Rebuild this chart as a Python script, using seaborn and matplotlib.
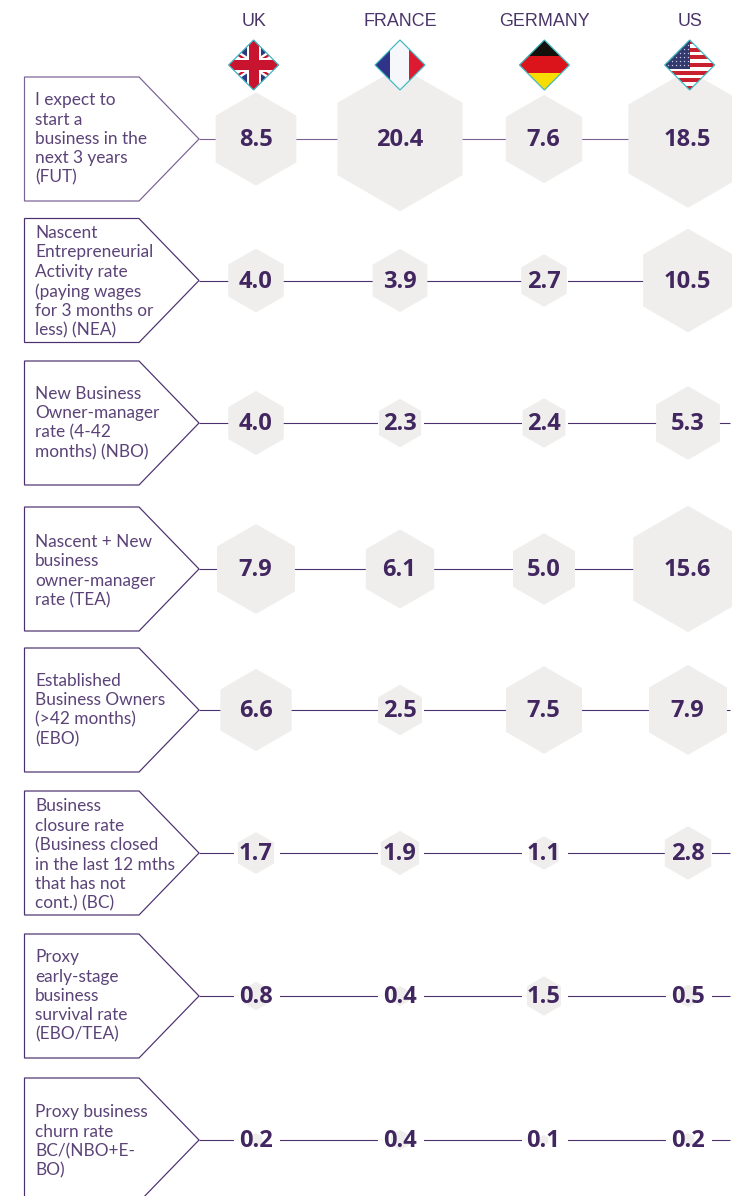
import numpy as np
import pandas as pd
import matplotlib
matplotlib.use("Agg")
import matplotlib.pyplot as plt
from matplotlib.patches import Polygon, Rectangle
import seaborn as sns

countries = ["UK", "FRANCE", "GERMANY", "US"]
row_labels = [
    "I expect to\nstart a\nbusiness in the\nnext 3 years\n(FUT)",
    "Nascent\nEntrepreneurial\nActivity rate\n(paying wages\nfor 3 months or\nless) (NEA)",
    "New Business\nOwner-manager\nrate (4-42\nmonths) (NBO)",
    "Nascent + New\nbusiness\nowner-manager\nrate (TEA)",
    "Established\nBusiness Owners\n(>42 months)\n(EBO)",
    "Business\nclosure rate\n(Business closed\nin the last 12 mths\nthat has not\ncont.) (BC)",
    "Proxy\nearly-stage\nbusiness\nsurvival rate\n(EBO/TEA)",
    "Proxy business\nchurn rate\nBC/(NBO+E-\nBO)",
]
uk_values = [8.5, 4.0, 4.0, 7.9, 6.6, 1.7, 0.8, 0.2]
france_values = [20.4, 3.9, 2.3, 6.1, 2.5, 1.9, 0.4, 0.4]
germany_values = [7.6, 2.7, 2.4, 5.0, 7.5, 1.1, 1.5, 0.1]
us_values = [18.5, 10.5, 5.3, 15.6, 7.9, 2.8, 0.5, 0.2]

# layout (pixels)
W, H = 732, 1196
col_x = [256, 400, 544, 688]
flag_x = [253.6, 400, 544.4, 689.7]
row_y = [139, 280.5, 423, 569, 710, 853, 996, 1140]
label_y = [139, 282, 423, 571, 710, 855, 996, 1141.5]
PURPLE = "#41265f"
LINE = "#4b3070"
TEAL = "#3fb9c2"

sns.set_theme(style="white")
plt.rcParams["font.family"] = ["Lato", "DejaVu Sans"]

fig = plt.figure(figsize=(W / 100, H / 100), dpi=100)
ax = fig.add_axes([0, 0, 1, 1])
ax.set_xlim(0, W)
ax.set_ylim(H, 0)
ax.axis("off")

series = [uk_values, france_values, germany_values, us_values]
df = pd.DataFrame(
    [
        {"x": col_x[c], "y": row_y[r], "value": series[c][r], "country": countries[c]}
        for c in range(4)
        for r in range(8)
    ]
)

# row connector lines, label pentagons, white gaps
PX = 0.72
for r, y in enumerate(row_y):
    col = "#7a6196" if r == 0 else LINE
    ax.plot([199, 730], [y, y], color=col, lw=1.1 * PX, zorder=1, solid_capstyle="butt")
    top, bot = y - 62, y + 62
    ax.add_patch(
        Polygon(
            [(24.5, top), (139, top), (199, y), (139, bot), (24.5, bot)],
            closed=True, fc="white", ec=col, lw=1.2 * PX, zorder=2,
        )
    )
    ax.text(35, label_y[r], row_labels[r], fontsize=12.4, color="#5b4378",
            va="center", ha="left", linespacing=1.26, zorder=5)
    for x in col_x:
        ax.add_patch(Rectangle((x - 22, y - 4), 46, 8, fc="white", ec="none", zorder=1.5))

# hexagons: area proportional to the value
k = 531
sns.scatterplot(
    data=df, x="x", y="y", size="value", size_norm=(0.1, 20.4),
    sizes=(k * 0.1, k * 20.4), marker="h", color="#efeeed",
    linewidth=0, legend=False, ax=ax, zorder=3, clip_on=False,
)
ax.set_xlim(0, W)
ax.set_ylim(H, 0)
ax.set_xlabel("")
ax.set_ylabel("")

for _, d in df.iterrows():
    ax.text(d["x"] - 0.5, d["y"] + 1, f"{d['value']:.1f}", family="Open Sans", fontsize=17,
            fontweight="bold", color=PURPLE, ha="center", va="center", zorder=6)

# headers
for x, name in zip(flag_x, countries):
    ax.text(x, 21.5, name, family="Liberation Sans", fontsize=12.9,
            color="#4a3468", ha="center", va="center", zorder=6)


# flags
def diamond(cx, cy=65, h=25):
    return Polygon([(cx, cy - h), (cx + h, cy), (cx, cy + h), (cx - h, cy)],
                   closed=True, transform=ax.transData, fc="none", ec="none")


def flag_frame(cx):
    clip = diamond(cx)
    ax.add_patch(clip)
    clip.set_zorder(7)
    return clip


def band(cx, x0, y0, x1, y1, color, clip, z=7):
    p = Rectangle((cx + x0, 65 + y0), x1 - x0, y1 - y0, fc=color, ec="none", zorder=z)
    ax.add_patch(p)
    p.set_clip_path(clip)


def outline(cx):
    ax.add_patch(Polygon([(cx, 40), (cx + 25, 65), (cx, 90), (cx - 25, 65)], closed=True,
                         fc="none", ec=TEAL, lw=1.2 * PX, zorder=9))


# UK
cx = flag_x[0]
clip = flag_frame(cx)
band(cx, -26, -26, 26, 26, "#2c3a7f", clip)
for sign in (1, -1):
    ln, = ax.plot([cx - 26, cx + 26], [65 - sign * 17, 65 + sign * 17], color="white", lw=5,
                  zorder=7.1, solid_capstyle="butt")
    ln.set_clip_path(clip)
    ln, = ax.plot([cx - 26, cx + 26], [65 - sign * 17, 65 + sign * 17], color="#c8142f", lw=1.6,
                  zorder=7.2, solid_capstyle="butt")
    ln.set_clip_path(clip)
band(cx, -26, -7, 26, 7, "white", clip, 7.3)
band(cx, -7, -26, 7, 26, "white", clip, 7.3)
band(cx, -26, -5, 26, 5, "#c8142f", clip, 7.4)
band(cx, -5, -26, 5, 26, "#c8142f", clip, 7.4)
outline(cx)

# France
cx = flag_x[1]
clip = flag_frame(cx)
band(cx, -26, -26, -10, 26, "#2f3488", clip)
band(cx, -10, -26, 9, 26, "#f6f7fa", clip)
band(cx, 9, -26, 26, 26, "#de1a33", clip)
outline(cx)

# Germany
cx = flag_x[2]
clip = flag_frame(cx)
band(cx, -26, -26, 26, -9, "#14110d", clip)
band(cx, -26, -9, 26, 8, "#db141b", clip)
band(cx, -26, 8, 26, 26, "#f9dc00", clip)
outline(cx)

# US
cx = flag_x[3]
clip = flag_frame(cx)
band(cx, -26, -26, 26, 26, "white", clip)
for i in range(7):
    y0 = -25 + i * 50 / 6.5
    band(cx, -26, y0, 26, y0 + 50 / 13, "#c8202f", clip, 7.1)
band(cx, -26, -26, 0, 4, "#33386f", clip, 7.2)
gx, gy = np.meshgrid(np.arange(-22, 0, 4), np.arange(-20, 4, 4))
ln, = ax.plot(cx + gx.ravel(), 65 + gy.ravel(), ls="none", marker="o", ms=1, mfc="#c9cbe0",
              mec="none", zorder=7.3)
ln.set_clip_path(clip)
outline(cx)

fig.savefig("out.png", dpi=100, facecolor="white")
